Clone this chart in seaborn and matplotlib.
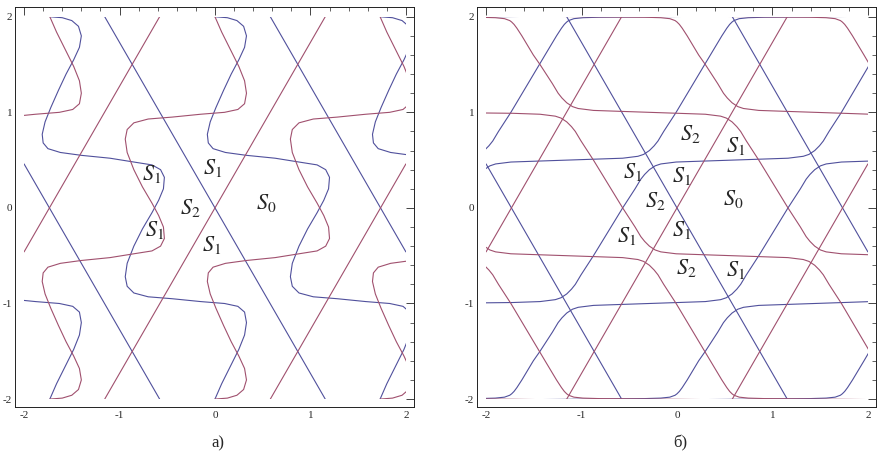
import pandas as pd
import matplotlib.pyplot as plt
from matplotlib.patches import Rectangle
from matplotlib.ticker import MultipleLocator
import seaborn as sns

BLUE = '#50509c'
RED = '#a0506e'

# ---- straight lines (same in both panels) ----
LINE_BLUE_X = [[-1.155, 1.155], [0.58, 2.0], [-2.0, -0.58]]
LINE_BLUE_Y = [[2.0, -2.0], [2.0, -0.46], [0.46, -2.0]]
LINE_RED_X = [[-1.155, 1.155], [0.58, 2.0], [-2.0, -0.58]]
LINE_RED_Y = [[-2.0, 2.0], [-2.0, 0.46], [-0.46, 2.0]]

# ---- panel a: wavy curves (blue), red ones are their mirror images ----
WAVE_X0 = [-2.18, -1.88, -1.63, -1.49, -1.42, -1.40, -1.42, -1.48, -1.57, -1.66, -1.73]
WAVE_Y0 = [-0.95, -0.98, -1.00, -1.03, -1.09, -1.20, -1.33, -1.48, -1.66, -1.84, -2.00]
WAVE_Y0_RED = [0.95, 0.98, 1.00, 1.03, 1.09, 1.20, 1.33, 1.48, 1.66, 1.84, 2.00]

WAVE_X1 = [-1.73, -1.60, -1.50, -1.43, -1.40, -1.42, -1.48, -1.56, -1.64, -1.72, -1.78,
           -1.81, -1.80, -1.75, -1.62, -1.40, -1.10, -0.85, -0.66, -0.57, -0.53, -0.54,
           -0.59, -0.66, -0.76, -0.85, -0.92, -0.94, -0.92, -0.85, -0.70, -0.45, -0.15,
           0.10, 0.24, 0.31, 0.33, 0.31, 0.25, 0.16, 0.07, 0.00]
WAVE_X2 = [0.00, 0.13, 0.23, 0.30, 0.33, 0.31, 0.25, 0.17, 0.09, 0.01, -0.05,
           -0.08, -0.07, -0.02, 0.11, 0.33, 0.63, 0.88, 1.07, 1.16, 1.20, 1.19,
           1.14, 1.07, 0.97, 0.88, 0.81, 0.79, 0.81, 0.88, 1.03, 1.28, 1.58,
           1.83, 1.97, 2.04, 2.06, 2.04, 1.98, 1.89, 1.80, 1.73]
WAVE_Y1 = [2.00, 1.99, 1.96, 1.90, 1.80, 1.68, 1.55, 1.40, 1.23, 1.05, 0.90,
           0.77, 0.68, 0.62, 0.58, 0.55, 0.52, 0.48, 0.45, 0.40, 0.32, 0.20,
           0.08, -0.05, -0.22, -0.40, -0.58, -0.72, -0.82, -0.89, -0.93, -0.95, -0.98,
           -1.00, -1.03, -1.09, -1.20, -1.33, -1.48, -1.66, -1.84, -2.00]
WAVE_Y1_RED = [-2.00, -1.99, -1.96, -1.90, -1.80, -1.68, -1.55, -1.40, -1.23, -1.05, -0.90,
               -0.77, -0.68, -0.62, -0.58, -0.55, -0.52, -0.48, -0.45, -0.40, -0.32, -0.20,
               -0.08, 0.05, 0.22, 0.40, 0.58, 0.72, 0.82, 0.89, 0.93, 0.95, 0.98,
               1.00, 1.03, 1.09, 1.20, 1.33, 1.48, 1.66, 1.84, 2.00]

WAVE_X3 = [1.73, 1.86, 1.96, 2.03, 2.06, 2.04, 1.98, 1.90, 1.82, 1.74, 1.68, 1.65, 1.66, 1.71, 1.84, 2.06]
WAVE_Y3 = [2.00, 1.99, 1.96, 1.90, 1.80, 1.68, 1.55, 1.40, 1.23, 1.05, 0.90, 0.77, 0.68, 0.62, 0.58, 0.55]
WAVE_Y3_RED = [-2.00, -1.99, -1.96, -1.90, -1.80, -1.68, -1.55, -1.40, -1.23, -1.05, -0.90, -0.77, -0.68, -0.62, -0.58, -0.55]

# ---- panel b: staircases (red descending, blue = mirrored) ----
STEP1_X = [-2.10, -1.725, -1.435, -1.275, -1.215, -1.185, -1.155, -1.105, -1.065, -1.005, -0.875,
           -0.569, -0.439, -0.379, -0.339, -0.289, -0.259, -0.229, -0.169, -0.009, 0.281,
           0.873, 1.163, 1.323, 1.383, 1.413, 1.443, 1.493, 1.533, 1.593, 1.723, 2.10]
STEP1_Y = [0.994, 0.99, 0.98, 0.96, 0.94, 0.92, 0.90, 0.85, 0.80, 0.70, 0.50,
           0.0, -0.20, -0.30, -0.35, -0.40, -0.42, -0.44, -0.46, -0.48, -0.49,
           -0.51, -0.52, -0.54, -0.56, -0.58, -0.60, -0.65, -0.70, -0.80, -1.00, -1.64]
STEP1_Y_BLUE = [-0.994, -0.99, -0.98, -0.96, -0.94, -0.92, -0.90, -0.85, -0.80, -0.70, -0.50,
                0.0, 0.20, 0.30, 0.35, 0.40, 0.42, 0.44, 0.46, 0.48, 0.49,
                0.51, 0.52, 0.54, 0.56, 0.58, 0.60, 0.65, 0.70, 0.80, 1.00, 1.64]

STEP2_X = [-2.10, -2.072, -1.902, -1.807, -1.752, -1.732, -1.707, -1.677, -1.625, -1.505,
           -1.435, -1.305, -1.245, -1.205, -1.155, -1.125, -1.095, -1.035, -0.875, -0.585,
           0.007, 0.297, 0.457, 0.517, 0.547, 0.577, 0.627, 0.667, 0.727, 0.857,
           1.163, 1.293, 1.353, 1.393, 1.443, 1.473, 1.503, 1.563, 1.723, 2.013, 2.10]
STEP2_Y = [1.997, 1.995, 1.99, 1.98, 1.96, 1.945, 1.92, 1.88, 1.80, 1.60,
           1.50, 1.30, 1.20, 1.15, 1.10, 1.08, 1.06, 1.04, 1.02, 1.01,
           0.99, 0.98, 0.96, 0.94, 0.92, 0.90, 0.85, 0.80, 0.70, 0.50,
           0.0, -0.20, -0.30, -0.35, -0.40, -0.42, -0.44, -0.46, -0.48, -0.49, -0.492]
STEP2_Y_BLUE = [-1.997, -1.995, -1.99, -1.98, -1.96, -1.945, -1.92, -1.88, -1.80, -1.60,
                -1.50, -1.30, -1.20, -1.15, -1.10, -1.08, -1.06, -1.04, -1.02, -1.01,
                -0.99, -0.98, -0.96, -0.94, -0.92, -0.90, -0.85, -0.80, -0.70, -0.50,
                0.0, 0.20, 0.30, 0.35, 0.40, 0.42, 0.44, 0.46, 0.48, 0.49, 0.492]

STEP3_X = [-1.959, -1.839, -1.787, -1.757, -1.732, -1.712, -1.657, -1.562, -1.392,
           -0.34, -0.17, -0.075, -0.02, 0.0, 0.025, 0.055, 0.107, 0.227,
           0.297, 0.427, 0.487, 0.527, 0.577, 0.607, 0.637, 0.697, 0.857, 1.147,
           1.74, 2.03, 2.10]
STEP3_Y = [2.40, 2.20, 2.12, 2.08, 2.055, 2.04, 2.02, 2.01, 2.005,
           1.995, 1.99, 1.98, 1.96, 1.945, 1.92, 1.88, 1.80, 1.60,
           1.50, 1.30, 1.20, 1.15, 1.10, 1.08, 1.06, 1.04, 1.02, 1.01,
           0.99, 0.98, 0.975]
STEP3_Y_BLUE = [-2.40, -2.20, -2.12, -2.08, -2.055, -2.04, -2.02, -2.01, -2.005,
                -1.995, -1.99, -1.98, -1.96, -1.945, -1.92, -1.88, -1.80, -1.60,
                -1.50, -1.30, -1.20, -1.15, -1.10, -1.08, -1.06, -1.04, -1.02, -1.01,
                -0.99, -0.98, -0.975]

STEP4_X = [-0.227, -0.107, -0.055, -0.025, 0.0, 0.02, 0.075, 0.17, 0.34,
           1.392, 1.562, 1.657, 1.712, 1.732, 1.757, 1.787, 1.839, 1.959, 2.10]
STEP4_Y = [2.40, 2.20, 2.12, 2.08, 2.055, 2.04, 2.02, 2.01, 2.005,
           1.995, 1.99, 1.98, 1.96, 1.945, 1.92, 1.88, 1.80, 1.60, 1.36]
STEP4_Y_BLUE = [-2.40, -2.20, -2.12, -2.08, -2.055, -2.04, -2.02, -2.01, -2.005,
                -1.995, -1.99, -1.98, -1.96, -1.945, -1.92, -1.88, -1.80, -1.60, -1.36]

STEP5_X = [-2.30, -2.17, -2.11, -2.07, -2.02, -1.99, -1.96, -1.90, -1.74, -1.45,
           -0.859, -0.569, -0.409, -0.349, -0.319, -0.289, -0.239, -0.199, -0.139, -0.009,
           0.350, 0.470, 0.522, 0.552, 0.577, 0.597, 0.652, 0.747, 0.917, 1.97, 2.10]
STEP5_Y = [0.0, -0.20, -0.30, -0.35, -0.40, -0.42, -0.44, -0.46, -0.48, -0.49,
           -0.51, -0.52, -0.54, -0.56, -0.58, -0.60, -0.65, -0.70, -0.80, -1.00,
           -1.60, -1.80, -1.88, -1.92, -1.945, -1.96, -1.98, -1.99, -1.995, -2.005, -2.01]
STEP5_Y_BLUE = [0.0, 0.20, 0.30, 0.35, 0.40, 0.42, 0.44, 0.46, 0.48, 0.49,
                0.51, 0.52, 0.54, 0.56, 0.58, 0.60, 0.65, 0.70, 0.80, 1.00,
                1.60, 1.80, 1.88, 1.92, 1.945, 1.96, 1.98, 1.99, 1.995, 2.005, 2.01]

STEP6_X = [-2.59, -2.30, -2.14, -2.08, -2.05, -2.02, -1.97, -1.93, -1.87, -1.74,
           -1.382, -1.262, -1.210, -1.180, -1.155, -1.135, -1.080, -0.985, -0.815,
           0.237, 0.407, 0.502, 0.557, 0.577, 0.602, 0.632, 0.684, 0.804]
STEP6_Y = [-0.51, -0.52, -0.54, -0.56, -0.58, -0.60, -0.65, -0.70, -0.80, -1.00,
           -1.60, -1.80, -1.88, -1.92, -1.945, -1.96, -1.98, -1.99, -1.995,
           -2.005, -2.01, -2.02, -2.04, -2.055, -2.08, -2.12, -2.20, -2.40]
STEP6_Y_BLUE = [0.51, 0.52, 0.54, 0.56, 0.58, 0.60, 0.65, 0.70, 0.80, 1.00,
                1.60, 1.80, 1.88, 1.92, 1.945, 1.96, 1.98, 1.99, 1.995,
                2.005, 2.01, 2.02, 2.04, 2.055, 2.08, 2.12, 2.20, 2.40]

STEP7_X = [-2.10, -1.495, -1.325, -1.230, -1.175, -1.155, -1.13, -1.10, -1.048, -0.928]
STEP7_Y = [-1.998, -2.005, -2.01, -2.02, -2.04, -2.055, -2.08, -2.12, -2.20, -2.40]
STEP7_Y_BLUE = [1.998, 2.005, 2.01, 2.02, 2.04, 2.055, 2.08, 2.12, 2.20, 2.40]

# ---- region labels ----
LABELS_A = [('$S_1$', -0.66, 0.35), ('$S_1$', -0.02, 0.42), ('$S_2$', -0.26, 0.0),
            ('$S_0$', 0.54, 0.05), ('$S_1$', -0.63, -0.23), ('$S_1$', -0.03, -0.39)]
LABELS_B = [('$S_2$', 0.14, 0.77), ('$S_1$', 0.61, 0.65), ('$S_1$', -0.46, 0.38),
            ('$S_1$', 0.05, 0.33), ('$S_2$', -0.23, 0.07), ('$S_0$', 0.59, 0.09),
            ('$S_1$', -0.53, -0.29), ('$S_1$', 0.05, -0.23), ('$S_2$', 0.10, -0.63),
            ('$S_1$', 0.61, -0.65)]

TICKS = [-2, -1, 0, 1, 2]
TICK_LABELS = ['-2', '-1', '0', '1', '2']


def curve(name, xs, ys, colour):
    return pd.DataFrame({'x': xs, 'y': ys, 'curve': name, 'colour': colour})


def straight_lines():
    parts = []
    for i, (xs, ys) in enumerate(zip(LINE_BLUE_X, LINE_BLUE_Y)):
        parts.append(curve(f'lb{i}', xs, ys, 'blue'))
    for i, (xs, ys) in enumerate(zip(LINE_RED_X, LINE_RED_Y)):
        parts.append(curve(f'lr{i}', xs, ys, 'red'))
    return parts


panel_a = pd.concat(straight_lines() + [
    curve('w0b', WAVE_X0, WAVE_Y0, 'blue'), curve('w0r', WAVE_X0, WAVE_Y0_RED, 'red'),
    curve('w1b', WAVE_X1, WAVE_Y1, 'blue'), curve('w1r', WAVE_X1, WAVE_Y1_RED, 'red'),
    curve('w2b', WAVE_X2, WAVE_Y1, 'blue'), curve('w2r', WAVE_X2, WAVE_Y1_RED, 'red'),
    curve('w3b', WAVE_X3, WAVE_Y3, 'blue'), curve('w3r', WAVE_X3, WAVE_Y3_RED, 'red'),
], ignore_index=True)

panel_b = pd.concat(straight_lines() + [
    curve('s1r', STEP1_X, STEP1_Y, 'red'), curve('s1b', STEP1_X, STEP1_Y_BLUE, 'blue'),
    curve('s2r', STEP2_X, STEP2_Y, 'red'), curve('s2b', STEP2_X, STEP2_Y_BLUE, 'blue'),
    curve('s3r', STEP3_X, STEP3_Y, 'red'), curve('s3b', STEP3_X, STEP3_Y_BLUE, 'blue'),
    curve('s4r', STEP4_X, STEP4_Y, 'red'), curve('s4b', STEP4_X, STEP4_Y_BLUE, 'blue'),
    curve('s5r', STEP5_X, STEP5_Y, 'red'), curve('s5b', STEP5_X, STEP5_Y_BLUE, 'blue'),
    curve('s6r', STEP6_X, STEP6_Y, 'red'), curve('s6b', STEP6_X, STEP6_Y_BLUE, 'blue'),
    curve('s7r', STEP7_X, STEP7_Y, 'red'), curve('s7b', STEP7_X, STEP7_Y_BLUE, 'blue'),
], ignore_index=True)

sns.set_style('white')
plt.rcParams['font.family'] = ['Liberation Serif', 'DejaVu Serif']
plt.rcParams['mathtext.fontset'] = 'stix'
plt.rcParams['axes.unicode_minus'] = False

fig = plt.figure(figsize=(8.86, 4.62), dpi=100)
ax_a = fig.add_axes([15 / 886, 55 / 462, 399 / 886, 400 / 462])
ax_b = fig.add_axes([477 / 886, 55 / 462, 399 / 886, 400 / 462])


def draw(ax, df, labels):
    sns.lineplot(data=df, x='x', y='y', units='curve', hue='colour',
                 palette={'blue': BLUE, 'red': RED}, estimator=None, sort=False,
                 lw=0.8, legend=False, ax=ax)
    clip = Rectangle((-2, -2), 4, 4, transform=ax.transData)
    for line in ax.lines:
        line.set_clip_path(clip)
    for txt, x, y in labels:
        ax.text(x, y, txt, fontsize=16, ha='center', va='center')
    ax.set_xlim(-2.095, 2.085)
    ax.set_ylim(-2.083, 2.102)
    ax.set_xticks(TICKS)
    ax.set_xticklabels(TICK_LABELS)
    ax.set_yticks(TICKS)
    ax.set_yticklabels(TICK_LABELS)
    ax.xaxis.set_minor_locator(MultipleLocator(0.2))
    ax.yaxis.set_minor_locator(MultipleLocator(0.2))
    ax.tick_params(which='major', direction='in', length=6, width=0.6,
                   top=True, right=True, labelsize=8, pad=3)
    ax.tick_params(which='minor', direction='in', length=3, width=0.5,
                   top=True, right=True)
    ax.tick_params(axis='y', which='major', pad=2)
    ax.set_xlabel('')
    ax.set_ylabel('')
    for sp in ax.spines.values():
        sp.set_linewidth(0.7)
        sp.set_color('#222222')


draw(ax_a, panel_a, LABELS_A)
draw(ax_b, panel_b, LABELS_B)

fig.text(218 / 886, 1 - 443 / 462, 'а)', ha='center', va='center', fontsize=12)
fig.text(680 / 886, 1 - 443 / 462, 'б)', ha='center', va='center', fontsize=12)

fig.savefig('out.png', dpi=100)
